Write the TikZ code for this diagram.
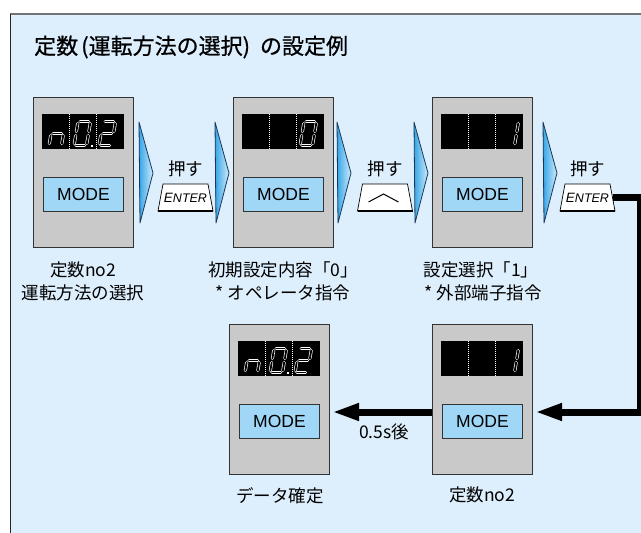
\documentclass[tikz,border=0pt]{standalone}
\usepackage{fontspec}
\setmainfont{Liberation Sans}
\newfontfamily\jp{Noto Sans CJK JP}
\newfontfamily\jptitle[FakeBold=0.7]{Noto Sans CJK JP}
\usetikzlibrary{arrows.meta}
\definecolor{bg}{RGB}{221,238,252}
\definecolor{devgray}{RGB}{201,201,201}
\definecolor{modeblue}{RGB}{160,214,246}
\definecolor{chevdark}{RGB}{55,165,230}
\definecolor{chevlight}{RGB}{205,235,252}
\definecolor{chevline}{RGB}{25,55,90}
\def\ssa{(2,24) -- (10.5,24)}
\def\ssb{(12.5,22) -- (12.5,14)}
\def\ssc{(12.5,10) -- (12.5,2)}
\def\ssd{(2,0) -- (10.5,0)}
\def\sse{(0,2) -- (0,10)}
\def\ssf{(0,14) -- (0,22)}
\def\ssg{(2,12) -- (10.5,12)}
\tikzset{
  devbox/.style={draw=black!80, line width=0.9pt, fill=devgray, minimum width=100pt, minimum height=150pt, inner sep=0pt, anchor=north west},
  dispbox/.style={fill=black, draw=none, minimum width=82pt, minimum height=35pt, inner sep=0pt, anchor=north west},
  modebox/.style={draw=black!80, line width=0.9pt, fill=modeblue, minimum width=80pt, minimum height=34pt, inner sep=0pt, anchor=north west, font=\fontsize{17.5}{20}\selectfont},
  sepline/.style={draw=white, line width=0.8pt, dash pattern=on 1pt off 1pt},
  segline/.style={draw=white, line width=0.65pt, double=black, double distance=1.8pt, line cap=round},
  chevstyle/.style={left color=chevdark, right color=chevlight, draw=chevline, line width=0.8pt, line join=round},
  keynode/.style={minimum width=50pt, minimum height=27pt, inner sep=0pt},
  lbl/.style={font=\jp\fontsize{17.5}{20}\selectfont, inner sep=0pt},
  conn/.style={line width=7pt, draw=black},
  bigtip/.style={-{Triangle[length=27pt,width=16pt]}},
  entertxt/.style={inner sep=0pt, font=\itshape},
}
\newcommand\device[3]{%
  \node[devbox] (#1) at (#2,#3) {};
  \node[dispbox] (#1disp) at ([shift={(9,17)}]#1.north west) {};
  \node[modebox] (#1mode) at ([shift={(10,80)}]#1.north west) {MODE};
  \draw[sepline] ([shift={(27.5,0)}]#1disp.north west) -- ([shift={(27.5,0)}]#1disp.south west);
  \draw[sepline] ([shift={(54,0)}]#1disp.north west) -- ([shift={(54,0)}]#1disp.south west);
}
\newcommand\sevenseg[3]{%
  \begin{scope}[shift={([shift={(#2,31.5)}]#1.north west)}, x=1pt, y=1pt, xslant=0.17]
    \foreach \s in {#3}{\expandafter\let\expandafter\curseg\csname ss\s\endcsname \draw[segline] \curseg;}
  \end{scope}}
\newcommand\decpt[1]{\fill[white] ([shift={(49,30.5)}]#1.north west) rectangle ++(2,2);}
\newcommand\chev[1]{\shadedraw[chevstyle] (#1,122) -- (#1+14,173) -- (#1+1,223) -- cycle;}
\newcommand\keyshape[2]{%
  \filldraw[fill=white, draw=black, line width=0.7pt] (#2-22.5,184) -- (#2+22.5,184) -- (#2+27.5,211) -- (#2-27.5,211) -- cycle;
  \draw[line width=2pt] (#2-27.5,210.5) -- (#2+27.5,210.5);
  \node[keynode] (#1) at (#2,197.5) {};
}
\newcommand\entertext{\fontsize{13.5}{14}\selectfont E\fontsize{12.5}{14}\selectfont NTER}
\begin{document}
\begin{tikzpicture}[x=1pt,y=-1pt]
\useasboundingbox (0,0) rectangle (641,533);
\fill[white] (0,0) rectangle (641,533);
\fill[bg] (10,14) rectangle (641,533);
\draw[black!55, line width=2pt] (10,14) -- (641,14);
\draw[black!85, line width=1.5pt] (10.5,14) -- (10.5,533);

\node[anchor=west, inner sep=0pt, font=\jptitle\fontsize{22}{24}\selectfont] (title) at (34,47) {定数\hspace{3pt}(運転方法の選択)\hspace{10pt}の設定例};

\device{d1}{33}{97}
\device{d2}{233}{97}
\device{d3}{432}{97}
\device{d4}{229}{324}
\device{d5}{432}{324}

\sevenseg{d1disp}{7}{c,e,g}
\sevenseg{d1disp}{32}{a,b,c,d,e,f}
\decpt{d1disp}
\sevenseg{d1disp}{57}{a,b,g,e,d}
\sevenseg{d2disp}{58}{a,b,c,d,e,f}
\sevenseg{d3disp}{61}{b,c}
\sevenseg{d4disp}{7}{c,e,g}
\sevenseg{d4disp}{32}{a,b,c,d,e,f}
\decpt{d4disp}
\sevenseg{d4disp}{57}{a,b,g,e,d}
\sevenseg{d5disp}{61}{b,c}

\chev{139}
\chev{215}
\chev{337}
\chev{414}
\chev{543}

\keyshape{k1}{185.5}
\keyshape{k2}{385}
\keyshape{k3}{587.5}
\node[entertxt] (k1t) at (k1) {\entertext};
\node[entertxt] (k3t) at (k3) {\entertext};
\draw[line width=1pt] (383.5-15,202) -- (383.5,194) -- (383.5+15,202);

\node[lbl] (p1) at (185.5,169) {押す};
\node[lbl] (p2) at (385,169) {押す};
\node[lbl] (p3) at (587.5,169) {押す};

\node[lbl] (l1a) at (83,270) {定数no2};
\node[lbl] (l1b) at (83,293) {運転方法の選択};
\node[lbl] (l2a) at (283,270) {初期設定内容「0」};
\node[lbl] (l2b) at (283,293) {* オペレータ指令};
\node[lbl] (l3a) at (481,270) {設定選択「1」};
\node[lbl] (l3b) at (483,293) {* 外部端子指令};
\node[lbl] (l4) at (280,496) {データ確定};
\node[lbl] (l5) at (482,495) {定数no2};
\node[lbl] (t05) at (384,432) {0.5s後};

\coordinate (c5in) at (535,412);
\coordinate (c4in) at (332,412);
\coordinate (corner) at (640,412);
\draw[conn, bigtip] (k3.east) -| (corner) -- (c5in);
\draw[conn, bigtip] (d5.west |- c5in) -- (c4in);
\end{tikzpicture}
\end{document}
